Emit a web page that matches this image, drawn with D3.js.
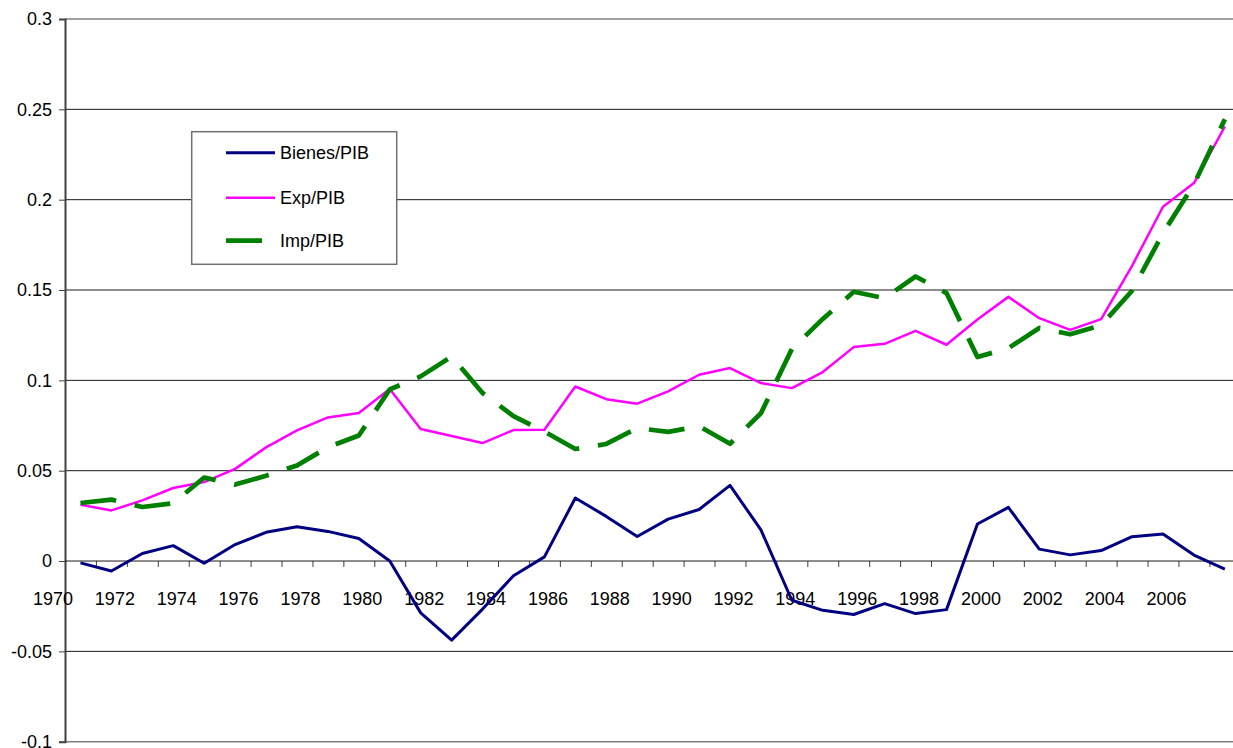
<!DOCTYPE html>
<html>
<head>
<meta charset="utf-8">
<script src="https://cdn.jsdelivr.net/npm/d3@7/dist/d3.min.js"></script>
<style>
  html, body { margin: 0; padding: 0; background: #fff; }
  svg { display: block; }
  text { font-family: "Liberation Sans", Arial, sans-serif; fill: #000; }
</style>
</head>
<body>
<svg id="chart" width="1233" height="748"></svg>
<script>
// Years of each observation
const years = [1971, 1972, 1973, 1974, 1975, 1976, 1977, 1978, 1979, 1980,
  1981, 1982, 1983, 1984, 1985, 1986, 1987, 1988, 1989, 1990,
  1991, 1992, 1993, 1994, 1995, 1996, 1997, 1998, 1999, 2000,
  2001, 2002, 2003, 2004, 2005, 2006, 2007, 2008];

// Balanza de bienes / PIB
const bienes = [-0.001, -0.0055, 0.0042, 0.0085, -0.0012, 0.0091, 0.0159, 0.019, 0.0164, 0.0125,
  0.0, -0.0287, -0.0438, -0.0266, -0.0081, 0.0023, 0.0349, 0.0247, 0.0136, 0.0232,
  0.0285, 0.0419, 0.0172, -0.0217, -0.0273, -0.0296, -0.0236, -0.0291, -0.0269, 0.0205,
  0.0297, 0.0066, 0.0034, 0.0058, 0.0135, 0.015, 0.0033, -0.0045];

// Exportaciones / PIB
const exportaciones = [0.0312, 0.028, 0.0336, 0.0404, 0.0437, 0.051, 0.0629, 0.0723, 0.0795, 0.0819,
  0.0952, 0.0731, 0.0692, 0.0653, 0.0725, 0.0727, 0.0966, 0.0896, 0.0871, 0.0939,
  0.1031, 0.1068, 0.0985, 0.0957, 0.1046, 0.1184, 0.1202, 0.1274, 0.1197, 0.1337,
  0.1462, 0.1344, 0.1279, 0.1339, 0.1634, 0.1961, 0.2092, 0.2405];

// Importaciones / PIB
const importaciones = [0.0321, 0.034, 0.0299, 0.032, 0.0462, 0.0423, 0.0472, 0.0529, 0.063, 0.0695,
  0.095, 0.1022, 0.1132, 0.093, 0.0802, 0.0717, 0.062, 0.0648, 0.0736, 0.0715,
  0.0746, 0.0649, 0.0818, 0.1173, 0.134, 0.149, 0.1455, 0.1575, 0.1483, 0.1129,
  0.1178, 0.129, 0.1255, 0.1305, 0.1496, 0.1815, 0.2085, 0.2445];

// Axis labels
const yTicks = [-0.1, -0.05, 0, 0.05, 0.1, 0.15, 0.2, 0.25, 0.3];
const yTickLabels = ["-0.1", "-0.05", "0", "0.05", "0.1", "0.15", "0.2", "0.25", "0.3"];
const xLabelYears = [1970, 1972, 1974, 1976, 1978, 1980, 1982, 1984, 1986, 1988,
  1990, 1992, 1994, 1996, 1998, 2000, 2002, 2004, 2006];

const seriesNames = ["Bienes/PIB", "Exp/PIB", "Imp/PIB"];

const svg = d3.select("#chart");
const W = 1233;
const FONT = 18;

const x = d3.scaleLinear().domain([1970.5, 2008.5]).range([65, 65 + 38 * 30.93]);
const y = d3.scaleLinear().domain([-0.1, 0.3]).range([741.7, 19]);

// Horizontal gridlines
svg.append("g")
  .selectAll("line")
  .data(yTicks.filter(v => v !== 0))
  .join("line")
  .attr("x1", x(1970.5)).attr("x2", W)
  .attr("y1", d => y(d)).attr("y2", d => y(d))
  .attr("stroke", d => (d === 0.3 || d === -0.1) ? "#808080" : "#1a1a1a")
  .attr("stroke-width", d => (d === 0.3 || d === -0.1) ? 1.5 : 1);

// Y axis
const yAxis = d3.axisLeft(y)
  .tickValues(yTicks)
  .tickSize(6)
  .tickPadding(7)
  .tickFormat((d, i) => yTickLabels[i]);
const gy = svg.append("g")
  .attr("transform", `translate(${x(1970.5)},0)`)
  .call(yAxis);
gy.select(".domain").attr("stroke", "#404040").attr("stroke-width", 2);
gy.selectAll(".tick line").attr("stroke", "#404040").attr("stroke-width", 1);
gy.selectAll(".tick text")
  .style("font-size", FONT + "px")
  .style("font-family", "'Liberation Sans', Arial, sans-serif")
  .attr("fill", "#000");

// X axis along the zero line, ticks between categories
const xTickVals = d3.range(0, 39).map(k => 1970.5 + k);
const xAxis = d3.axisBottom(x)
  .tickValues(xTickVals)
  .tickSize(6)
  .tickFormat("");
const gx = svg.append("g")
  .attr("transform", `translate(0,${y(0)})`)
  .call(xAxis);
gx.select(".domain").remove();
gx.append("line")
  .attr("x1", x(1970.5)).attr("x2", W)
  .attr("y1", 0).attr("y2", 0)
  .attr("stroke", "#1a1a1a").attr("stroke-width", 1);
gx.selectAll(".tick line").attr("stroke", "#404040").attr("stroke-width", 1);

// Year labels
svg.append("g")
  .selectAll("text")
  .data(xLabelYears)
  .join("text")
  .attr("x", d => x(d) + 3.5)
  .attr("y", y(0) + 44)
  .attr("text-anchor", "middle")
  .style("font-size", FONT + "px")
  .text(d => String(d));

// Series lines
const line = d3.line()
  .x((d, i) => x(years[i]))
  .y(d => y(d));

svg.append("path")
  .datum(bienes)
  .attr("d", line)
  .attr("fill", "none")
  .attr("stroke", "#000080")
  .attr("stroke-width", 3)
  .attr("stroke-linejoin", "round");

svg.append("path")
  .datum(exportaciones)
  .attr("d", line)
  .attr("fill", "none")
  .attr("stroke", "#FF00FF")
  .attr("stroke-width", 2.5)
  .attr("stroke-linejoin", "round");

svg.append("path")
  .datum(importaciones)
  .attr("d", line)
  .attr("fill", "none")
  .attr("stroke", "#008000")
  .attr("stroke-width", 4.7)
  .attr("stroke-dasharray", "36,19")
  .attr("stroke-linejoin", "round");

// Legend
const legend = svg.append("g");
legend.append("rect")
  .attr("x", 191.7).attr("y", 131.7)
  .attr("width", 205).attr("height", 132.6)
  .attr("fill", "#fff")
  .attr("stroke", "#707070")
  .attr("stroke-width", 1.5);

const legendItems = [
  { name: seriesNames[0], color: "#000080", width: 3, x2: 275, dash: null, ly: 152.7 },
  { name: seriesNames[1], color: "#FF00FF", width: 2.5, x2: 275, dash: null, ly: 197.7 },
  { name: seriesNames[2], color: "#008000", width: 4.7, x2: 262, dash: null, ly: 240.7 }
];
legendItems.forEach(it => {
  legend.append("line")
    .attr("x1", 226).attr("x2", it.x2)
    .attr("y1", it.ly).attr("y2", it.ly)
    .attr("stroke", it.color)
    .attr("stroke-width", it.width);
  legend.append("text")
    .attr("x", 280)
    .attr("y", it.ly)
    .attr("dy", "0.36em")
    .style("font-size", FONT + "px")
    .text(it.name);
});
</script>
</body>
</html>
